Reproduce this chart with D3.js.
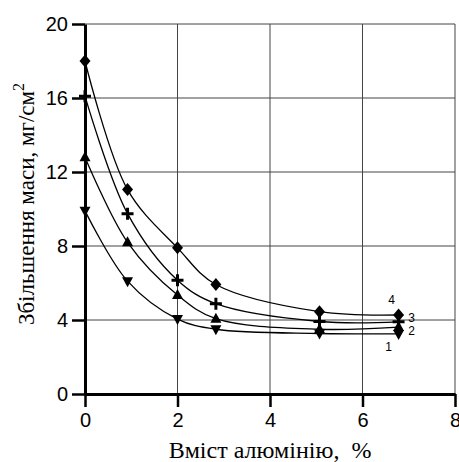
<!DOCTYPE html>
<html>
<head>
<meta charset="utf-8">
<script src="https://cdn.jsdelivr.net/npm/d3@7"></script>
<style>
  body { margin: 0; background: #fff; }
  .serif { font-family: "Liberation Serif", "DejaVu Serif", serif; fill: #000; white-space: pre; }
</style>
</head>
<body>
<div id="chart"></div>
<script>
// aluminium content, %
const xValues = [0, 0.92, 2, 2.83, 5.07, 6.78];
// mass gain, mg/cm2, curves 1..4
const curve1 = [9.9, 6.1, 4.05, 3.5, 3.27, 3.25];
const curve2 = [12.8, 8.2, 5.35, 4.07, 3.5, 3.62];
const curve3 = [16.1, 9.75, 6.15, 4.88, 3.92, 3.9];
const curve4 = [18, 11.05, 7.9, 5.92, 4.45, 4.27];
const curveNames = ["1", "2", "3", "4"];
const xTicks = [0, 2, 4, 6, 8];
const yTicks = [0, 4, 8, 12, 16, 20];

function drawChart() {
    const W = 459, H = 462;
    const margin = {l: 85, r: 4, t: 24, b: 68};
    const width = W - margin.l - margin.r;
    const height = H - margin.t - margin.b;

    let outerSvg = d3.select("#chart")
        .append("svg")
        .attr("width", W)
        .attr("height", H);
    outerSvg.append("rect")
        .attr("width", "100%")
        .attr("height", "100%")
        .attr("fill", "#fff");
    let svg = outerSvg.append("g")
        .attr("transform", `translate(${margin.l}, ${margin.t})`);

    let scaleX = d3.scaleLinear().domain([0, 8]).range([0, width]);
    let scaleY = d3.scaleLinear().domain([0, 20]).range([height, 0]);

    //grid
    let grid = svg.append("g").attr("class", "grid");
    grid.selectAll(".vx")
        .data(xTicks.slice(1))
        .enter().append("line")
        .attr("x1", d => scaleX(d)).attr("x2", d => scaleX(d))
        .attr("y1", 0).attr("y2", height)
        .attr("stroke", "#444").attr("stroke-width", 1);
    grid.selectAll(".hy")
        .data(yTicks.slice(1))
        .enter().append("line")
        .attr("x1", 0).attr("x2", width)
        .attr("y1", d => scaleY(d)).attr("y2", d => scaleY(d))
        .attr("stroke", "#444").attr("stroke-width", 1);

    //axes
    let axisX = d3.axisBottom(scaleX).tickValues(xTicks).tickSize(13).tickPadding(6).tickSizeOuter(0);
    let axisY = d3.axisLeft(scaleY).tickValues(yTicks).tickSize(13).tickPadding(4).tickSizeOuter(0);

    let gx = svg.append("g")
        .attr("transform", `translate(0,${height})`)
        .call(axisX);
    let gy = svg.append("g").call(axisY);
    [gx, gy].forEach(g => {
        g.select(".domain").attr("stroke", "#000").attr("stroke-width", 3);
        g.selectAll(".tick line").attr("stroke", "#000").attr("stroke-width", 2.5);
        g.selectAll(".tick text")
            .attr("fill", "#000")
            .style("font-family", "'Liberation Sans', Arial, sans-serif")
            .style("font-size", "20px");
    });

    //curves
    const series = [curve1, curve2, curve3, curve4];
    let line = d3.line()
        .x((d, i) => scaleX(xValues[i]))
        .y(d => scaleY(d))
        .curve(d3.curveCatmullRom.alpha(0.5));

    svg.append("g").selectAll("path")
        .data(series)
        .enter().append("path")
        .attr("d", d => line(d))
        .attr("fill", "none")
        .attr("stroke", "#000")
        .attr("stroke-width", 1.3);

    //markers
    const shapes = [
        "M0,6L5.5,-4L-5.5,-4Z",      // triangle down
        "M0,-6L5.5,4L-5.5,4Z",       // triangle up
        null,                          // plus
        "M0,-6.5L5.5,0L0,6.5L-5.5,0Z" // diamond
    ];
    series.forEach((s, k) => {
        let g = svg.append("g").attr("class", "marks" + (k + 1));
        let pts = g.selectAll("g")
            .data(s)
            .enter().append("g")
            .attr("transform", (d, i) => `translate(${scaleX(xValues[i])},${scaleY(d)})`);
        if (shapes[k]) {
            pts.append("path").attr("d", shapes[k]).attr("fill", "#000");
        } else {
            pts.append("path")
                .attr("d", "M-6,0L6,0M0,-6L0,6")
                .attr("stroke", "#000")
                .attr("stroke-width", 3);
        }
    });

    //curve numbers
    const labelPos = [[-10, 17], [13, 7.5], [13, 0], [-7, -11]];
    svg.append("g").selectAll("text")
        .data(series)
        .enter().append("text")
        .attr("x", (d, k) => scaleX(xValues[5]) + labelPos[k][0])
        .attr("y", (d, k) => scaleY(d[5]) + labelPos[k][1])
        .attr("text-anchor", "middle")
        .attr("fill", "#000")
        .style("font-family", "'Liberation Sans', Arial, sans-serif")
        .style("font-size", "12px")
        .text((d, k) => curveNames[k]);

    //axis titles
    outerSvg.append("text")
        .attr("class", "serif")
        .attr("x", 270)
        .attr("y", 458)
        .attr("text-anchor", "middle")
        .style("font-size", "24px")
        .text("Вміст алюмінію,  %");

    let yt = outerSvg.append("text")
        .attr("class", "serif")
        .attr("transform", "translate(34, 204) rotate(-90)")
        .attr("text-anchor", "middle")
        .style("font-size", "23px");
    yt.append("tspan").text("Збільшення маси, мг/см");
    yt.append("tspan").attr("dy", -10).style("font-size", "16px").text("2");
}

drawChart();
</script>
</body>
</html>
